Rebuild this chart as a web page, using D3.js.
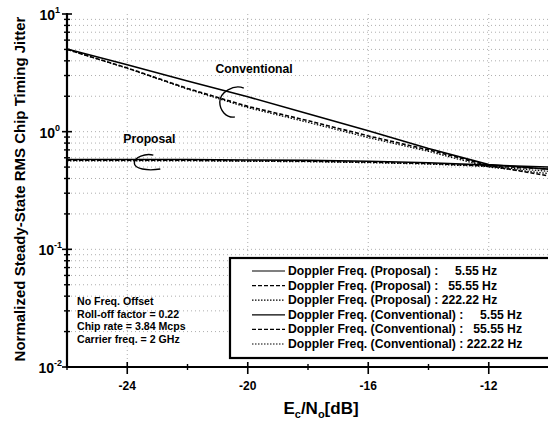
<!DOCTYPE html>
<html>
<head>
<meta charset="utf-8">
<script src="https://cdn.jsdelivr.net/npm/d3@7"></script>
<style>
  body { margin: 0; background: #fff; }
  text { font-family: "Liberation Sans", Arial, sans-serif; font-weight: bold; }
</style>
</head>
<body>
<div id="chart"></div>
<script>
// Ec/No [dB]
const ecno = [-26, -24, -22, -20, -18, -16, -14, -12, -10];

// Normalized steady-state RMS chip timing jitter
const propSolid  = [0.58, 0.58, 0.58, 0.575, 0.57, 0.56, 0.545, 0.52, 0.50];
const propDashed = [0.57, 0.57, 0.57, 0.565, 0.56, 0.55, 0.535, 0.51, 0.48];
const propDotted = [0.565, 0.565, 0.565, 0.56, 0.555, 0.545, 0.53, 0.505, 0.46];
const convSolid  = [5.05, 3.70, 2.70, 1.98, 1.42, 1.02, 0.72, 0.525, 0.48];
const convDashed = [5.00, 3.48, 2.33, 1.64, 1.24, 0.92, 0.70, 0.515, 0.42];
const convDotted = [5.00, 3.45, 2.30, 1.60, 1.20, 0.89, 0.68, 0.50, 0.44];

const legendLabels = [
  ["Doppler Freq. (Proposal) :", "5.55 Hz"],
  ["Doppler Freq. (Proposal) :", "55.55 Hz"],
  ["Doppler Freq. (Proposal) : 222.22 Hz", ""],
  ["Doppler Freq. (Conventional) :", "5.55 Hz"],
  ["Doppler Freq. (Conventional) :", "55.55 Hz"],
  ["Doppler Freq. (Conventional) : 222.22 Hz", ""]
];
const notes = ["No Freq. Offset", "Roll-off factor = 0.22", "Chip rate = 3.84 Mcps", "Carrier freq. = 2 GHz"];
const xTicks = [-24, -20, -16, -12];
const xMinor = [-26, -22, -18, -14, -10];
const yDecades = [-2, -1, 0, 1];

const W = 548, H = 430;
const svg = d3.select("#chart").append("svg").attr("width", W).attr("height", H);

const x = d3.scaleLinear().domain([-26, -10]).range([67, 549]);
const y = d3.scaleLog().domain([0.01, 10]).range([367, 14]);

// minor values for log grid/ticks
let minors = [];
for (let e = -2; e < 1; e++) {
  for (let m = 2; m <= 9; m++) minors.push(m * Math.pow(10, e));
}

// gridlines
const grid = svg.append("g").attr("stroke", "#999").attr("stroke-width", 0.8)
  .attr("stroke-dasharray", "1,3");
grid.selectAll(".hg").data(minors.concat([0.1, 1])).enter().append("line")
  .attr("x1", x(-26)).attr("x2", x(-10))
  .attr("y1", d => y(d)).attr("y2", d => y(d));
grid.selectAll(".vg").data(xTicks).enter().append("line")
  .attr("x1", d => x(d)).attr("x2", d => x(d))
  .attr("y1", y(10)).attr("y2", y(0.01));

// curves
const line = d3.line().x((d, i) => x(ecno[i])).y(d => y(d));
const series = [
  {v: propSolid, dash: null, w: 1.6},
  {v: propDashed, dash: "4,2", w: 1.3},
  {v: propDotted, dash: "1.5,1.5", w: 1.2},
  {v: convSolid, dash: null, w: 1.6},
  {v: convDashed, dash: "4,2", w: 1.6},
  {v: convDotted, dash: "1.5,1.5", w: 1.2}
];
svg.append("g").selectAll("path").data(series).enter().append("path")
  .attr("d", d => line(d.v))
  .attr("fill", "none").attr("stroke", "#000")
  .attr("stroke-width", d => d.w)
  .attr("stroke-dasharray", d => d.dash);

// axes
const ax = svg.append("g").attr("stroke", "#000");
ax.append("line").attr("x1", x(-26)).attr("x2", x(-26)).attr("y1", y(10) - 1).attr("y2", y(0.01) + 1)
  .attr("stroke-width", 2.2);
ax.append("line").attr("x1", x(-26) - 1).attr("x2", x(-10)).attr("y1", y(0.01)).attr("y2", y(0.01))
  .attr("stroke-width", 2.2);
ax.selectAll(".ymaj").data(yDecades).enter().append("line")
  .attr("x1", x(-26) - 5).attr("x2", x(-26) + 5)
  .attr("y1", d => y(Math.pow(10, d))).attr("y2", d => y(Math.pow(10, d)))
  .attr("stroke-width", 1.6);
ax.selectAll(".ymin").data(minors).enter().append("line")
  .attr("x1", x(-26) - 3).attr("x2", x(-26) + 3)
  .attr("y1", d => y(d)).attr("y2", d => y(d))
  .attr("stroke-width", 1.4);
ax.selectAll(".xmaj").data(xTicks).enter().append("line")
  .attr("x1", d => x(d)).attr("x2", d => x(d))
  .attr("y1", y(0.01) - 5).attr("y2", y(0.01) + 7)
  .attr("stroke-width", 1.6);
ax.selectAll(".xmin").data(xMinor).enter().append("line")
  .attr("x1", d => x(d)).attr("x2", d => x(d))
  .attr("y1", y(0.01) - 3).attr("y2", y(0.01) + 3)
  .attr("stroke-width", 1.4);

// tick labels
svg.append("g").selectAll("text").data(xTicks).enter().append("text")
  .attr("x", d => x(d)).attr("y", 390).attr("text-anchor", "middle")
  .attr("font-size", 12).text(d => d);

const yl = svg.append("g").selectAll("text").data(yDecades).enter().append("text")
  .attr("x", d => d < 0 ? 62 : 60).attr("y", d => y(Math.pow(10, d)) + 6)
  .attr("text-anchor", "end").attr("font-size", 14).attr("font-weight", "normal");
yl.append("tspan").text("10");
yl.append("tspan").attr("dy", -7).attr("font-size", 9).text(d => d);

// axis titles
svg.append("text")
  .attr("transform", `translate(25,189) rotate(-90)`)
  .attr("text-anchor", "middle").attr("font-size", 15)
  .text("Normalized Steady-State RMS Chip Timing Jitter");

const xt = svg.append("text").attr("x", 321).attr("y", 414).attr("text-anchor", "middle")
  .attr("font-size", 17).attr("font-weight", "normal");
xt.append("tspan").text("E");
xt.append("tspan").attr("dy", 4).attr("font-size", 11).text("c");
xt.append("tspan").attr("dy", -4).text("/N");
xt.append("tspan").attr("dy", 4).attr("font-size", 11).text("o");
xt.append("tspan").attr("dy", -4).text("[dB]");

// annotations
svg.append("text").attr("x", x(-21.07)).attr("y", y(3.15)).attr("font-size", 12.2).text("Conventional");
svg.append("text").attr("x", x(-24.13)).attr("y", y(0.80)).attr("font-size", 12.2).text("Proposal");

const bracket = svg.append("g").attr("fill", "none").attr("stroke", "#000").attr("stroke-width", 1.4);
{
  const cx = x(-20.53), cy = y(1.785);
  bracket.append("path").attr("d",
    `M${cx + 12},${cy - 14} C${cx + 2},${cy - 18} ${cx - 12},${cy - 10} ${cx - 12},${cy} ` +
    `C${cx - 12},${cy + 8} ${cx - 6},${cy + 16} ${cx + 3},${cy + 15}`);
  const px = x(-23.4), py = y(0.541);
  bracket.append("path").attr("d",
    `M${px + 8},${py - 8} C${px},${py - 10} ${px - 11},${py - 6} ${px - 11},${py} ` +
    `C${px - 11},${py + 6} ${px + 2},${py + 8} ${px + 15},${py + 6}`);
}

svg.append("g").selectAll("text").data(notes).enter().append("text")
  .attr("x", 77).attr("y", (d, i) => 305 + i * 12.7)
  .attr("font-size", 10.6).text(d => d);

// legend
const lg = svg.append("g");
lg.append("rect").attr("x", 230).attr("y", 258).attr("width", 330).attr("height", 100)
  .attr("fill", "#fff").attr("stroke", "#000").attr("stroke-width", 2.2);
const rows = lg.selectAll(".row").data(series).enter().append("g")
  .attr("transform", (d, i) => `translate(0,${275 + i * 14.6})`);
rows.append("line").attr("x1", 252).attr("x2", 285).attr("y1", -4).attr("y2", -4)
  .attr("stroke", "#000").attr("stroke-width", 1.2)
  .attr("stroke-dasharray", d => d.dash);
rows.append("text").attr("x", 288).attr("y", 0).attr("font-size", 12.2)
  .text((d, i) => legendLabels[i][0]);
rows.append("text").attr("x", (d, i) => i < 3 ? 497 : 522).attr("y", 0)
  .attr("font-size", 12.2).attr("text-anchor", "end")
  .text((d, i) => legendLabels[i][1]);
</script>
</body>
</html>
